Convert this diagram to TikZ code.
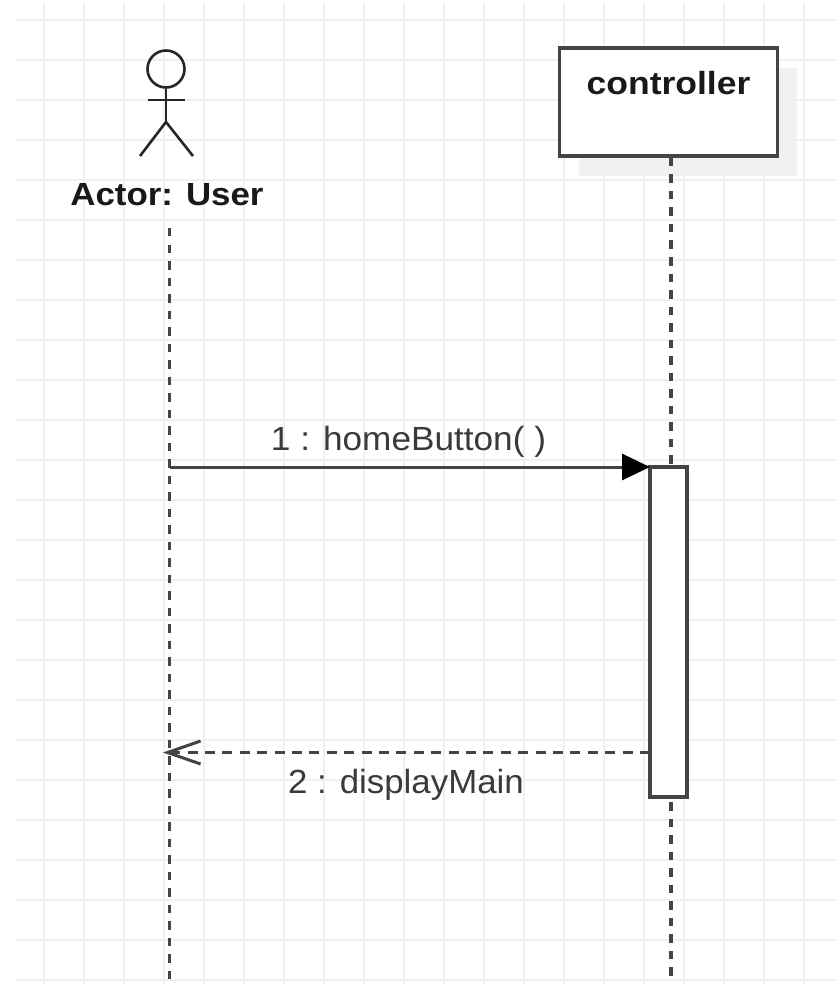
\documentclass[tikz,border=0pt]{standalone}
\usepackage{fontspec}
\setmainfont{Liberation Sans}
\usetikzlibrary{arrows.meta}
\definecolor{gridc}{HTML}{F0F0F0}
\definecolor{shadowc}{HTML}{F1F1F1}
\definecolor{inkc}{HTML}{444444}
\definecolor{textc}{HTML}{3A3A3A}
\newcommand{\widetext}[2]{\scalebox{#1}[1]{#2}}
\tikzset{
  x=1pt,y=-1pt,
  gridline/.style={draw=gridc,line width=2pt},
  stick/.style={draw=black!85,line width=2.6pt},
  lifeline/.style={draw=inkc,line width=3.2pt,dash pattern=on 8.5pt off 8pt},
  boxstyle/.style={draw=inkc,line width=3.2pt,fill=white,inner sep=0pt,outer sep=0pt,minimum width=218pt,minimum height=108pt,anchor=north west},
  activationbox/.style={draw=inkc,line width=3.2pt,fill=white,inner sep=0pt,outer sep=0pt,minimum width=37pt,minimum height=330pt,anchor=north west},
  boldlabel/.style={font=\fontsize{32}{34}\selectfont\bfseries,text=black!90,inner sep=0pt},
  msglabel/.style={font=\fontsize{33.5}{35}\selectfont,text=textc,inner sep=0pt},
  callarrow/.style={draw=inkc,line width=3pt,-{Triangle[length=28pt,width=26pt,fill=black,color=black]}},
  returnarrow/.style={draw=inkc,line width=3pt,dash pattern=on 10pt off 7.4pt,-{Straight Barb[length=33pt,width=23pt,line width=3pt,color=inkc]}},
}
\begin{document}
\begin{tikzpicture}
\useasboundingbox (0,0) rectangle (836,984);
\fill[white] (0,0) rectangle (836,984);
% shadow
\fill[shadowc] (579,68) rectangle (797,176);
% grid
\foreach \yy in {20,60,...,980} {\draw[gridline] (15,\yy) -- (836,\yy);}
\foreach \xx in {44,84,...,804} {\draw[gridline] (\xx,4) -- (\xx,984);}
% actor
\coordinate (actorhip) at (166,122);
\coordinate (armL) at (148,100);
\coordinate (armR) at (185,100);
\coordinate (legL) at (140,156);
\coordinate (legR) at (193,156);
\node[circle,stick,minimum size=37pt,inner sep=0pt] (actorhead) at (166,69) {};
\draw[stick] (actorhead.south) -- (actorhip);
\draw[stick] (armL) -- (armR);
\draw[stick] (legL) -- (actorhip) -- (legR);
\node[boldlabel] (actorlabel) at (167,194.5) {\widetext{1.09}{Actor: User}};
% controller
\node[boxstyle] (controller) at (559.5,48) {};
\node[boldlabel] (controllerlabel) at (668.5,83) {\widetext{1.11}{controller}};
% lifelines
\coordinate (u1) at (169.5,228);
\coordinate (u2) at (169.5,980);
\coordinate (c1) at (671,158);
\coordinate (c2) at (671,467);
\coordinate (c3) at (671,802);
\coordinate (c4) at (671,980);
\draw[lifeline] (u1) -- (u2);
\draw[lifeline] (c1) -- (c2);
\draw[lifeline] (c3) -- (c4);
% activation
\node[activationbox] (activation) at (650,467) {};
% messages
\coordinate (m1s) at (169.5,467);
\coordinate (m1e) at (650,467);
\coordinate (m2s) at (650,752.5);
\coordinate (m2e) at (163,752.5);
\draw[callarrow] (m1s) -- (m1e);
\draw[returnarrow] (m2s) -- (m2e);
\node[msglabel] (m1label) at (408.5,441.5) {\widetext{1.05}{1 : homeButton( )}};
\node[msglabel] (m2label) at (406,784.5) {\widetext{1.04}{2 : displayMain}};
\end{tikzpicture}
\end{document}
